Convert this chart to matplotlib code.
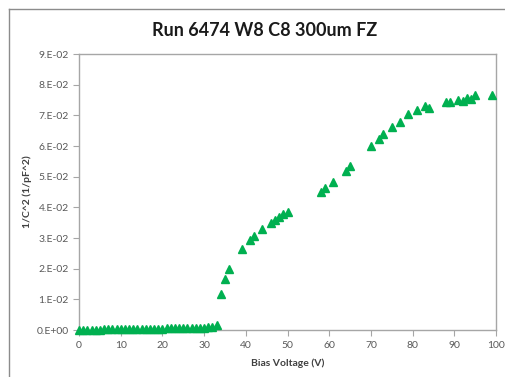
import matplotlib.pyplot as plt
from matplotlib.lines import Line2D
from matplotlib.ticker import FuncFormatter

# Bias scan, 1/C^2 in 1/pF^2
bias_v = [0, 1, 2, 3, 4, 5, 6, 7, 8, 9, 10, 11, 12, 13, 14, 15, 16, 17, 18, 19,
          20, 21, 22, 23, 24, 25, 26, 27, 28, 29, 30, 31, 32, 33,
          34, 35, 36, 39, 41, 42, 44, 46, 47, 48, 49, 50,
          58, 59, 61, 64, 65, 70, 72, 73, 75, 77, 79, 81, 83, 84,
          88, 89, 91, 92, 93, 94, 95, 99]
inv_c2 = [0.0000, 0.0001, 0.0001, 0.0001, 0.0001, 0.0001, 0.0002, 0.0002, 0.0002, 0.0002,
          0.0002, 0.0003, 0.0003, 0.0003, 0.0003, 0.0003, 0.0004, 0.0004, 0.0004, 0.0004,
          0.0004, 0.0005, 0.0005, 0.0005, 0.0005, 0.0006, 0.0006, 0.0006, 0.0007, 0.0007,
          0.0008, 0.0009, 0.0011, 0.0015,
          0.0118, 0.0167, 0.0200, 0.0263, 0.0293, 0.0307, 0.0329, 0.0350, 0.0359, 0.0369,
          0.0378, 0.0386,
          0.0451, 0.0464, 0.0482, 0.0518, 0.0535, 0.0600, 0.0624, 0.0638, 0.0662, 0.0678,
          0.0705, 0.0718, 0.0731, 0.0725,
          0.0744, 0.0743, 0.0750, 0.0746, 0.0756, 0.0752, 0.0765, 0.0766]

title = "Run 6474 W8 C8 300um FZ"
x_ticks = list(range(0, 101, 10))
y_ticks = [i * 0.01 for i in range(10)]

grey = "#595959"
frame = "#a6a6a6"

fig = plt.figure(figsize=(5.06, 3.77), dpi=100)
ax = fig.add_axes([79 / 506, 47 / 377, 417 / 506, 276 / 377])

ax.plot(bias_v, inv_c2, linestyle="none", marker="^", markersize=5.5,
        color="#00b050", markeredgecolor="#00b050", clip_on=False, zorder=3)

ax.set_xlim(0, 100)
ax.set_ylim(0, 0.09)
ax.set_xticks(x_ticks)
ax.set_yticks(y_ticks)


def sci_label(v, pos):
    # Excel-style "9.E-02" labels
    if abs(v) < 1e-12:
        return "0.E+00"
    mant, exp = f"{v:.0E}".split("E")
    return f"{mant}.E{exp}"


ax.yaxis.set_major_formatter(FuncFormatter(sci_label))

for side in ax.spines.values():
    side.set_color(frame)
    side.set_linewidth(1.0)

ax.tick_params(axis="both", direction="out", length=4, width=0.8, color=frame,
               labelcolor=grey, labelsize=7.5)
ax.tick_params(axis="x", pad=4)

font = "Lato"
for lab in ax.get_xticklabels() + ax.get_yticklabels():
    lab.set_family(font)

ax.set_xlabel("Bias Voltage (V)", fontsize=7.5, fontweight="bold", color="#404040",
              family=font, labelpad=6)
ax.set_ylabel("1/C^2 (1/pF^2)", fontsize=7.5, fontweight="bold", color="#404040",
              family=font, labelpad=3)

fig.text(265 / 506, 1 - 30 / 377, title, ha="center", va="center",
         fontsize=13, fontweight="bold", family=font, color="#1a1a1a")

# outer chart border (only top and left edges fall inside the image)
fig.add_artist(Line2D([8.5 / 506, 8.5 / 506], [0, 1 - 8.5 / 377],
                      transform=fig.transFigure, color="#8c8c8c", linewidth=1.0))
fig.add_artist(Line2D([8.5 / 506, 1], [1 - 8.5 / 377, 1 - 8.5 / 377],
                      transform=fig.transFigure, color="#8c8c8c", linewidth=1.0))

fig.savefig("out.png", dpi=100)
plt.close(fig)
